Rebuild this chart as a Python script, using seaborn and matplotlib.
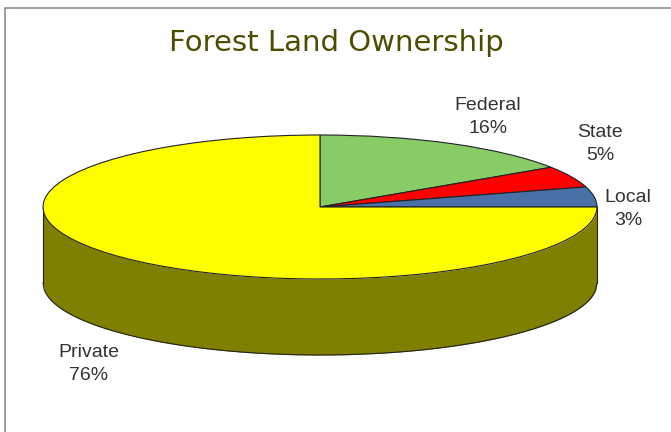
import numpy as np
import matplotlib
matplotlib.use('Agg')
import matplotlib.pyplot as plt
import seaborn as sns

# slice sizes, printed percentages are the chart's own labels
categories = ['Federal', 'State', 'Local', 'Private']
slice_shares = [15.7, 4.8, 4.5, 75.0]
pct_labels = ['16%', '5%', '3%', '76%']
slice_colors = ['#88CC66', '#FF0000', '#4A71A5', '#FFFF00']
WALL = '#808000'
EDGE = '#222222'
TITLE = 'Forest Land Ownership'

W, H = 671, 432
CX, CY, RX, RY, DEPTH = 320, 207, 277, 72, 76
label_px = [(488, 117), (600, 144), (628, 209), (89, 364)]

sns.set_theme(style='white')
fig = plt.figure(figsize=(W/100, H/100), dpi=100, facecolor='white')
ax = fig.add_axes([0, 0, 1, 1])

# pie in unit circle, axes scaled so the circle lands as a flat ellipse
ax.pie(slice_shares, colors=slice_colors, startangle=90, counterclock=False, frame=True,
       wedgeprops={'edgecolor': EDGE, 'linewidth': 0.8, 'zorder': 3})
ax.set_aspect('auto')
ax.set_xlim(-CX/RX, (W-CX)/RX)
ax.set_ylim((CY-H)/RY, CY/RY)
ax.set_xticks([]); ax.set_yticks([])
for sp in ax.spines.values():
    sp.set_visible(False)

# side wall of the disc
x = np.linspace(-1, 1, 400)
rim = -np.sqrt(1 - x**2)
d = DEPTH/RY
ax.fill_between(x, rim, rim-d, color=WALL, lw=0, zorder=1)
ax.plot(x, rim-d, color=EDGE, lw=0.8, zorder=2)
ax.plot([-1, -1], [0, -d], color=EDGE, lw=0.8, zorder=2)
ax.plot([1, 1], [0, -d], color=EDGE, lw=0.8, zorder=2)

# chart frame
ax.plot([4.5/W, 4.5/W, 1], [0, 1-8/H, 1-8/H], transform=ax.transAxes,
        color='#8A8A96', lw=1.2, clip_on=False, zorder=5)

fig.text(336/W, 1-43/H, TITLE, ha='center', va='center', fontsize=21,
         color='#4D4D00', family='DejaVu Sans')
for cat, pct, (px, py) in zip(categories, pct_labels, label_px):
    fig.text(px/W, 1-py/H, f'{cat}\n{pct}', ha='center', va='center', fontsize=14,
             color='#333333', family='Liberation Sans', linespacing=1.45)

fig.savefig('out.png', dpi=100, facecolor='white')
plt.close(fig)
